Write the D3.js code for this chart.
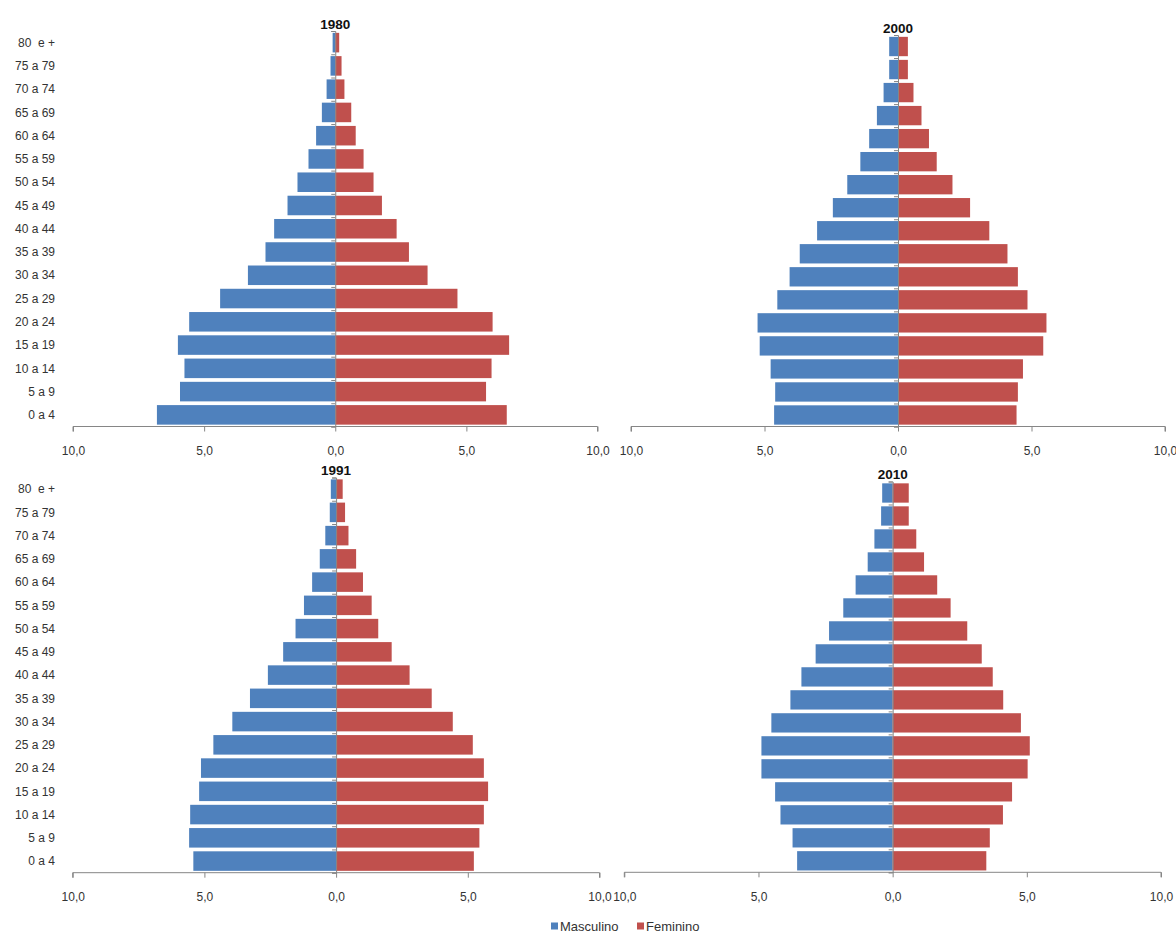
<!DOCTYPE html>
<html>
<head>
<meta charset="utf-8">
<script src="https://cdn.jsdelivr.net/npm/d3@7"></script>
<style>
  html, body { margin: 0; padding: 0; background: #ffffff; }
  svg { display: block; font-family: "Liberation Sans", Arial, sans-serif; }
</style>
</head>
<body>
<svg id="chart" width="1176" height="933"></svg>
<script>
// ---------- DATA ----------
const categories = ["0 a 4","5 a 9","10 a 14","15 a 19","20 a 24","25 a 29","30 a 34","35 a 39","40 a 44","45 a 49","50 a 54","55 a 59","60 a 64","65 a 69","70 a 74","75 a 79","80  e +"];
const years = ["1980", "2000", "1991", "2010"];
const male1980   = [6.80, 5.92, 5.75, 6.00, 5.57, 4.39, 3.33, 2.66, 2.33, 1.82, 1.44, 1.02, 0.73, 0.51, 0.33, 0.18, 0.10];
const female1980 = [6.54, 5.75, 5.96, 6.63, 6.00, 4.66, 3.52, 2.81, 2.34, 1.78, 1.46, 1.08, 0.78, 0.61, 0.35, 0.24, 0.15];
const male1991   = [5.42, 5.58, 5.54, 5.20, 5.13, 4.66, 3.94, 3.27, 2.59, 2.01, 1.54, 1.22, 0.91, 0.62, 0.41, 0.24, 0.20];
const female1991 = [5.23, 5.44, 5.61, 5.77, 5.61, 5.19, 4.43, 3.63, 2.79, 2.11, 1.60, 1.35, 1.02, 0.76, 0.47, 0.34, 0.25];
const male2000   = [4.64, 4.60, 4.77, 5.18, 5.26, 4.52, 4.06, 3.68, 3.03, 2.44, 1.90, 1.41, 1.08, 0.79, 0.54, 0.33, 0.33];
const female2000 = [4.44, 4.49, 4.68, 5.44, 5.56, 4.85, 4.49, 4.10, 3.42, 2.70, 2.04, 1.45, 1.16, 0.88, 0.58, 0.37, 0.37];
const male2010   = [3.56, 3.73, 4.18, 4.38, 4.89, 4.89, 4.52, 3.81, 3.40, 2.87, 2.37, 1.84, 1.38, 0.93, 0.68, 0.43, 0.39];
const female2010 = [3.49, 3.62, 4.11, 4.45, 5.03, 5.11, 4.78, 4.12, 3.73, 3.32, 2.78, 2.16, 1.66, 1.17, 0.88, 0.60, 0.60];
const xTicks = [-10, -5, 0, 5, 10];
const seriesNames = ["Masculino", "Feminino"];
const seriesColors = ["#4F81BD", "#C0504D"];

// ---------- LAYOUT ----------
const panels = [
  { year: years[0], male: male1980, female: female1980, x: [73, 597.5],  y: [31, 426.5],  labels: true },
  { year: years[1], male: male2000, female: female2000, x: [631, 1165],  y: [35, 426.5],  labels: false },
  { year: years[2], male: male1991, female: female1991, x: [72.7, 599.5], y: [477.5, 872.7], labels: true },
  { year: years[3], male: male2010, female: female2010, x: [624.3, 1161], y: [481.5, 872.3], labels: false }
];

const svg = d3.select("#chart");
const axisColor = "#868686";
const textColor = "#333333";
const fmt = d => Math.abs(d).toFixed(1).replace(".", ",");

panels.forEach(p => {
  const g = svg.append("g");
  const x = d3.scaleLinear().domain([-10, 10]).range(p.x);
  const y = d3.scaleBand().domain(categories).range([p.y[1], p.y[0]]).paddingInner(0.16).paddingOuter(0.08);
  const yIdx = d3.scaleLinear().domain([0, categories.length]).range([p.y[1], p.y[0]]);

  // bars
  g.selectAll("rect.m").data(categories).join("rect")
    .attr("class", "m")
    .attr("x", (c, i) => x(-p.male[i]))
    .attr("width", (c, i) => x(0) - x(-p.male[i]))
    .attr("y", c => y(c))
    .attr("height", y.bandwidth())
    .attr("fill", seriesColors[0]);
  g.selectAll("rect.f").data(categories).join("rect")
    .attr("class", "f")
    .attr("x", x(0))
    .attr("width", (c, i) => x(p.female[i]) - x(0))
    .attr("y", c => y(c))
    .attr("height", y.bandwidth())
    .attr("fill", seriesColors[1]);

  // central vertical axis with boundary ticks
  const vAxis = g.append("g")
    .attr("transform", `translate(${x(0)},0)`)
    .call(d3.axisLeft(yIdx).ticks(categories.length).tickValues(d3.range(categories.length + 1)).tickSize(4).tickFormat(""));
  vAxis.selectAll("path, line").attr("stroke", axisColor);

  // bottom axis
  const xAxis = g.append("g")
    .attr("transform", `translate(0,${p.y[1]})`)
    .call(d3.axisBottom(x).tickValues(xTicks).tickSize(5).tickPadding(15).tickFormat(fmt));
  xAxis.select(".domain").attr("stroke", axisColor).attr("d", `M${p.x[0]},5V0H${p.x[1]}V5`);
  xAxis.selectAll(".tick line").attr("stroke", axisColor);
  xAxis.selectAll("text").attr("fill", textColor).style("font-size", "12px");

  // category labels
  if (p.labels) {
    g.selectAll("text.cat").data(categories).join("text")
      .attr("class", "cat")
      .attr("x", 55)
      .attr("y", c => y(c) + y.bandwidth() / 2)
      .attr("dy", "0.35em")
      .attr("text-anchor", "end")
      .attr("fill", textColor)
      .style("font-size", "12px")
      .style("white-space", "pre")
      .text(c => c);
  }

  // title
  g.append("text")
    .attr("x", x(0))
    .attr("y", p.y[0] - 2.5)
    .attr("text-anchor", "middle")
    .attr("fill", "#111")
    .style("font-size", "13.5px")
    .style("font-weight", "bold")
    .text(p.year);
});

// legend
const legend = svg.append("g").attr("transform", "translate(551,926)");
const legendX = [0, 86];
seriesNames.forEach((name, i) => {
  legend.append("rect").attr("x", legendX[i]).attr("y", -3.5).attr("width", 7).attr("height", 7).attr("fill", seriesColors[i]);
  legend.append("text").attr("x", legendX[i] + 9).attr("y", 0).attr("dy", "0.35em")
    .attr("fill", textColor).style("font-size", "13px").text(name);
});
</script>
</body>
</html>
